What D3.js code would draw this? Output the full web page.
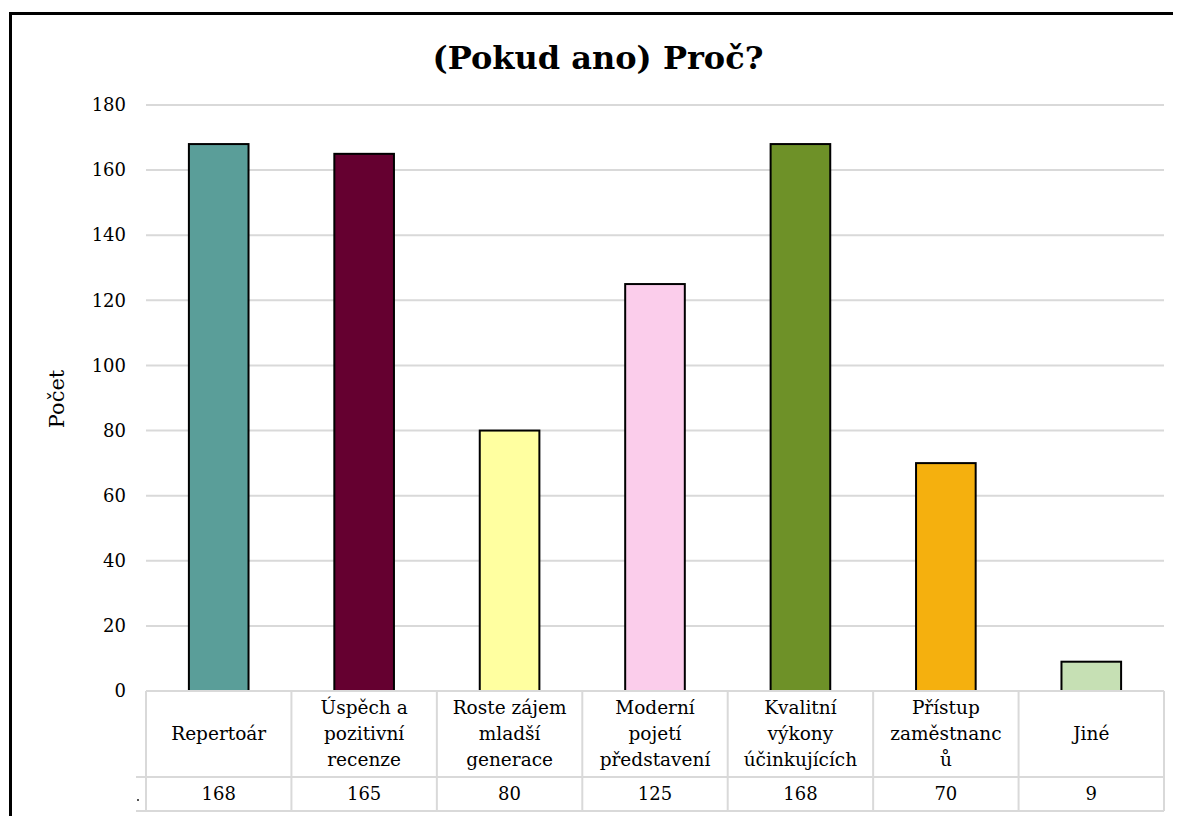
<!DOCTYPE html>
<html>
<head>
<meta charset="utf-8">
<script src="https://cdn.jsdelivr.net/npm/d3@7"></script>
<style>
  body { margin: 0; background: #fff; }
  text { font-family: "DejaVu Serif", "Liberation Serif", serif; fill: #000; }
</style>
</head>
<body>
<div id="chart"></div>
<script>
var categories = ["Repertoár", "Úspěch a\npozitivní\nrecenze", "Roste zájem\nmladší\ngenerace",
    "Moderní\npojetí\npředstavení", "Kvalitní\nvýkony\núčinkujících", "Přístup\nzaměstnanc\nů", "Jiné"];
var values = [168, 165, 80, 125, 168, 70, 9];
var colors = ["#5a9e99", "#650030", "#ffffa0", "#fbcdeb", "#6e9128", "#f5b00e", "#c6e0b4"];
var yTicks = [0, 20, 40, 60, 80, 100, 120, 140, 160, 180];
var title = "(Pokud ano) Proč?";
var yLabel = "Počet";

var width = 1178,
    height = 816;

var plotLeft = 146, plotRight = 1164, plotTop = 105, plotBottom = 691;

var svg = d3.select("#chart").append("svg")
    .attr("width", width)
    .attr("height", height);

// frame (only top and left edges are visible)
svg.append("path")
    .attr("d", "M10.5,816 L10.5,13.5 L1173,13.5")
    .attr("fill", "none")
    .attr("stroke", "#000")
    .attr("stroke-width", 3);

svg.append("text")
    .attr("x", 598)
    .attr("y", 69)
    .attr("text-anchor", "middle")
    .style("font-size", "32px")
    .style("font-weight", "bold")
    .text(title);

var x = d3.scaleBand()
    .domain(categories)
    .range([plotLeft, plotRight]);

var y = d3.scaleLinear()
    .domain([0, 180])
    .range([plotBottom, plotTop]);

// gridlines
svg.append("g")
    .selectAll("line")
    .data(yTicks)
    .enter().append("line")
    .attr("x1", plotLeft)
    .attr("x2", plotRight)
    .attr("y1", function(d) { return y(d); })
    .attr("y2", function(d) { return y(d); })
    .attr("stroke", "#d9d9d9")
    .attr("stroke-width", 2);

var yAxis = svg.append("g")
    .attr("transform", "translate(" + (plotLeft - 20) + ",0)")
    .call(d3.axisLeft(y).tickValues(yTicks).tickSize(0).tickPadding(0));
yAxis.select(".domain").remove();
yAxis.selectAll("text")
    .style("font-size", "18px")
    .style("font-family", "DejaVu Serif, serif");

svg.append("text")
    .attr("transform", "translate(64,399) rotate(-90)")
    .attr("text-anchor", "middle")
    .style("font-size", "21px")
    .text(yLabel);

// bars
var barW = x.bandwidth() * 0.41;
svg.append("g")
    .selectAll("rect")
    .data(values)
    .enter().append("rect")
    .attr("x", function(d, i) { return x(categories[i]) + (x.bandwidth() - barW) / 2; })
    .attr("y", function(d) { return y(d); })
    .attr("width", barW)
    .attr("height", function(d) { return y(0) - y(d); })
    .attr("fill", function(d, i) { return colors[i]; })
    .attr("stroke", "#000")
    .attr("stroke-width", 2);

// data table
var rowTop = plotBottom, rowMid = 777, rowBot = 811;
var table = svg.append("g")
    .attr("stroke", "#d9d9d9")
    .attr("stroke-width", 2);

table.append("line").attr("x1", plotLeft).attr("x2", plotRight).attr("y1", rowTop).attr("y2", rowTop);
table.append("line").attr("x1", 136).attr("x2", plotRight).attr("y1", rowMid).attr("y2", rowMid);
table.append("line").attr("x1", 136).attr("x2", plotRight).attr("y1", rowBot).attr("y2", rowBot);

table.selectAll(".vline")
    .data(categories.concat(["end"]))
    .enter().append("line")
    .attr("class", "vline")
    .attr("x1", function(d, i) { return plotLeft + i * x.step(); })
    .attr("x2", function(d, i) { return plotLeft + i * x.step(); })
    .attr("y1", rowTop)
    .attr("y2", rowBot);

var headers = svg.append("g")
    .selectAll("text")
    .data(categories)
    .enter().append("text")
    .attr("text-anchor", "middle")
    .style("font-size", "18.5px");

headers.each(function(d) {
  var lines = d.split("\n");
  var t = d3.select(this);
  var cx = x(d) + x.bandwidth() / 2;
  lines.forEach(function(line, j) {
    t.append("tspan")
        .attr("x", cx)
        .attr("y", (rowTop + rowMid) / 2 + (j - (lines.length - 1) / 2) * 26 + 6)
        .text(line);
  });
});

svg.append("g")
    .selectAll("text")
    .data(values)
    .enter().append("text")
    .attr("text-anchor", "middle")
    .attr("x", function(d, i) { return x(categories[i]) + x.bandwidth() / 2; })
    .attr("y", (rowMid + rowBot) / 2 + 6)
    .style("font-size", "18px")
    .text(function(d) { return d; });

// tiny legend key
svg.append("rect")
    .attr("x", 137)
    .attr("y", 799)
    .attr("width", 2)
    .attr("height", 2)
    .attr("fill", "#555");
</script>
</body>
</html>
